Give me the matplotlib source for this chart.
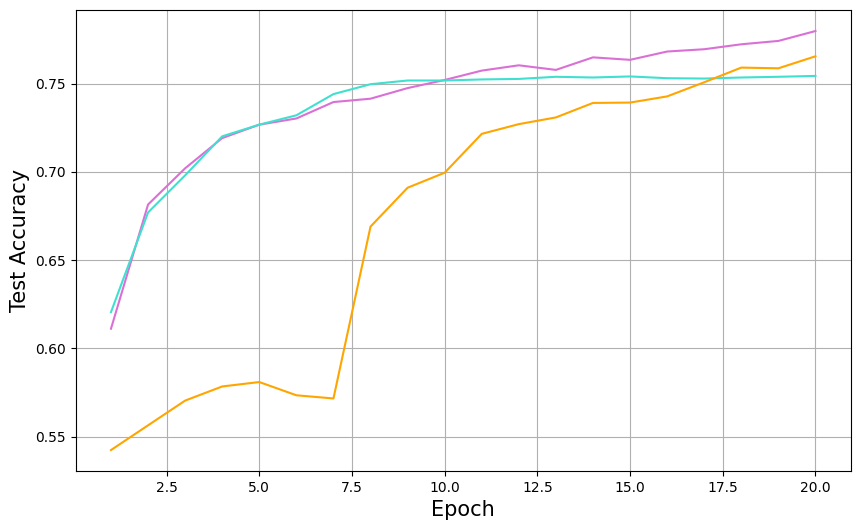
import matplotlib
matplotlib.use("Agg")
import matplotlib.pyplot as plt
import numpy as np

epochs = np.arange(1, 21)

# test accuracy per epoch
acc_orchid = [0.6112, 0.6815, 0.7020, 0.7191, 0.7267, 0.7302, 0.7395, 0.7414, 0.7474, 0.7520,
              0.7573, 0.7603, 0.7577, 0.7648, 0.7634, 0.7681, 0.7694, 0.7722, 0.7741, 0.7797]
acc_turquoise = [0.6206, 0.6770, 0.6980, 0.7201, 0.7267, 0.7320, 0.7440, 0.7496, 0.7517, 0.7517,
                 0.7523, 0.7526, 0.7538, 0.7534, 0.7540, 0.7530, 0.7528, 0.7534, 0.7538, 0.7543]
acc_orange = [0.5425, 0.5565, 0.5705, 0.5785, 0.5810, 0.5735, 0.5717, 0.6690, 0.6910, 0.6995,
              0.7215, 0.7270, 0.7308, 0.7390, 0.7392, 0.7427, 0.7507, 0.7590, 0.7586, 0.7654]

fig = plt.figure(figsize=(8.61, 5.31), dpi=100)
ax = fig.add_axes([0.088, 0.113, 0.9, 0.868])

ax.plot(epochs, acc_orchid, color='orchid')
ax.plot(epochs, acc_turquoise, color='turquoise')
ax.plot(epochs, acc_orange, color='orange')

ax.grid(True)
ax.set_xlabel('Epoch', fontsize=15)
ax.set_ylabel('Test Accuracy', fontsize=15)

fig.savefig('out.png', dpi=100)
